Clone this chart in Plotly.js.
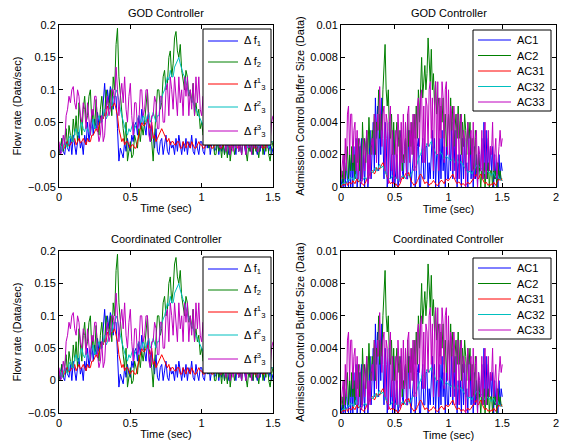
<!DOCTYPE html>
<html>
<head>
<meta charset="utf-8">
<script src="https://cdn.plot.ly/plotly-3.0.1.min.js"></script>
<style>html,body{margin:0;padding:0;background:#fff;}#chart{width:561px;height:445px;}</style>
</head>
<body>
<div id="chart"></div>
<script>
// Time grid (sec)
const time = [0,0.01,0.02,0.03,0.04,0.05,0.06,0.07,0.08,0.09,
0.1,0.11,0.12,0.13,0.14,0.15,0.16,0.17,0.18,0.19,
0.2,0.21,0.22,0.23,0.24,0.25,0.26,0.27,0.28,0.29,
0.3,0.31,0.32,0.33,0.34,0.35,0.36,0.37,0.38,0.39,
0.4,0.41,0.42,0.43,0.44,0.45,0.46,0.47,0.48,0.49,
0.5,0.51,0.52,0.53,0.54,0.55,0.56,0.57,0.58,0.59,
0.6,0.61,0.62,0.63,0.64,0.65,0.66,0.67,0.68,0.69,
0.7,0.71,0.72,0.73,0.74,0.75,0.76,0.77,0.78,0.79,
0.8,0.81,0.82,0.83,0.84,0.85,0.86,0.87,0.88,0.89,
0.9,0.91,0.92,0.93,0.94,0.95,0.96,0.97,0.98,0.99,
1.0,1.01,1.02,1.03,1.04,1.05,1.06,1.07,1.08,1.09,
1.1,1.11,1.12,1.13,1.14,1.15,1.16,1.17,1.18,1.19,
1.2,1.21,1.22,1.23,1.24,1.25,1.26,1.27,1.28,1.29,
1.3,1.31,1.32,1.33,1.34,1.35,1.36,1.37,1.38,1.39,
1.4,1.41,1.42,1.43,1.44,1.45,1.46,1.47,1.48,1.49,1.5];

// Flow rate deviations (Data/sec)
const f1 = [0.01,0.0,0.025,0.005,0.0,0.02,0.01,0.005,0.025,0.0,
0.03,0.01,0.0,0.02,0.035,0.01,0.02,0.0,0.03,0.015,
0.05,0.02,0.04,0.06,0.03,0.055,0.04,0.065,0.045,0.06,
0.05,0.09,0.11,0.07,0.1,0.08,0.105,0.095,0.07,0.09,
0.09,0.04,-0.01,0.01,0.0,-0.005,0.02,0.005,0.025,0.01,
0.005,0.03,0.02,0.045,0.05,0.03,0.06,0.04,0.07,0.05,
0.045,0.03,0.06,0.035,0.02,0.045,0.03,0.01,0.04,0.005,
0.0,0.02,0.025,0.0,0.015,0.03,0.005,0.0,0.02,0.01,
0.015,0.0,0.025,0.005,0.03,0.01,0.0,0.02,0.005,0.025,
0.0,0.02,0.01,0.03,0.005,0.0,0.025,0.01,0.0,0.02,
0.02,0.005,0.0,0.025,0.01,0.03,0.0,0.015,0.025,0.005,
0.01,0.03,0.0,0.02,0.005,0.025,0.0,0.015,0.02,0.0,
0.0,0.025,0.01,0.02,0.0,0.03,0.005,0.015,0.0,0.025,
0.01,0.0,0.02,0.03,0.005,0.015,0.0,0.025,0.01,0.0,
0.02,0.005,0.03,0.01,0.0,0.02,0.025,0.005,0.015,0.0,0.01];
const f2 = [0.0,0.015,0.025,0.005,0.02,0.04,0.01,0.045,0.03,0.02,
0.055,0.03,0.06,0.02,0.08,0.05,0.03,0.07,0.09,0.05,
0.06,0.09,0.1,0.05,0.07,0.04,0.085,0.05,0.03,0.07,
0.09,0.06,0.06,0.1,0.08,0.07,0.1,0.06,0.12,0.1,
0.17,0.195,0.12,0.09,0.06,0.04,0.02,0.05,-0.01,0.01,
0.02,-0.005,0.0,0.03,0.02,0.01,0.04,0.02,0.045,0.03,
0.05,0.07,0.1,0.05,0.04,0.02,-0.01,0.03,0.06,0.1,
0.1,0.07,0.08,0.12,0.13,0.1,0.11,0.15,0.16,0.12,
0.14,0.18,0.19,0.16,0.15,0.17,0.13,0.11,0.1,0.13,
0.12,0.09,0.1,0.08,0.11,0.06,0.08,0.06,0.07,0.04,
0.05,0.03,0.045,0.02,0.04,0.01,0.035,0.02,0.03,0.0,
0.0,0.02,0.005,0.015,-0.005,0.02,0.0,0.015,-0.005,0.025,
-0.01,0.01,0.02,0.0,0.015,0.03,0.005,0.02,0.0,0.02,
0.02,0.0,-0.01,0.015,0.005,0.02,0.0,0.025,0.005,0.015,
-0.005,0.015,0.025,0.0,0.02,0.005,0.03,0.0,-0.01,0.01,0.02];
const f31 = [0.01,0.012,0.015,0.01,0.01,0.018,0.02,0.013,0.015,0.02,
0.02,0.025,0.015,0.02,0.025,0.018,0.02,0.025,0.02,0.015,
0.025,0.02,0.02,0.03,0.03,0.035,0.04,0.035,0.045,0.05,
0.06,0.055,0.065,0.06,0.075,0.07,0.08,0.075,0.075,0.08,
0.07,0.06,0.04,0.03,0.02,0.025,0.015,0.02,0.02,0.015,
0.01,0.015,0.015,0.01,0.01,0.02,0.03,0.04,0.05,0.045,
0.045,0.05,0.055,0.045,0.04,0.05,0.025,0.03,0.02,0.025,
0.03,0.035,0.04,0.035,0.03,0.025,0.02,0.025,0.015,0.02,
0.02,0.015,0.015,0.02,0.02,0.01,0.01,0.02,0.015,0.01,
0.02,0.015,0.01,0.02,0.015,0.01,0.01,0.015,0.02,0.015,
0.015,0.01,0.01,0.02,0.02,0.015,0.015,0.01,0.01,0.015,
0.015,0.02,0.02,0.01,0.01,0.015,0.015,0.02,0.02,0.015,
0.01,0.015,0.015,0.02,0.02,0.01,0.01,0.015,0.015,0.02,
0.02,0.01,0.01,0.015,0.015,0.02,0.02,0.01,0.01,0.015,
0.015,0.02,0.02,0.01,0.01,0.015,0.015,0.02,0.02,0.02,0.02];
const f32 = [0.01,0.015,0.005,0.01,0.02,0.015,0.01,0.025,0.03,0.02,
0.02,0.035,0.04,0.03,0.03,0.045,0.05,0.04,0.035,0.045,
0.04,0.035,0.03,0.045,0.055,0.04,0.045,0.055,0.06,0.05,
0.05,0.06,0.07,0.055,0.06,0.07,0.08,0.075,0.09,0.085,
0.1,0.095,0.08,0.07,0.06,0.05,0.04,0.035,0.03,0.04,
0.035,0.045,0.05,0.04,0.045,0.055,0.06,0.05,0.05,0.06,
0.055,0.05,0.06,0.065,0.05,0.055,0.065,0.055,0.05,0.06,
0.06,0.08,0.09,0.095,0.1,0.11,0.12,0.115,0.13,0.12,
0.12,0.135,0.14,0.145,0.15,0.14,0.13,0.125,0.12,0.11,
0.1,0.095,0.09,0.085,0.08,0.075,0.07,0.065,0.06,0.055,
0.05,0.045,0.04,0.04,0.035,0.03,0.03,0.035,0.025,0.03,
0.03,0.025,0.02,0.025,0.025,0.02,0.015,0.02,0.02,0.015,
0.015,0.02,0.025,0.015,0.01,0.02,0.02,0.015,0.015,0.02,
0.02,0.015,0.01,0.02,0.025,0.015,0.015,0.02,0.02,0.015,
0.01,0.015,0.02,0.02,0.015,0.025,0.02,0.01,0.015,0.02,0.02];
const f33 = [0.02,0.0,0.005,0.03,0.015,0.06,0.07,0.09,0.08,0.1,
0.105,0.08,0.07,0.1,0.09,0.06,0.05,0.08,0.07,0.04,
0.08,0.05,0.03,0.07,0.06,0.09,0.09,0.04,0.02,0.03,
0.06,0.02,0.03,0.07,0.09,0.06,0.07,0.1,0.1,0.08,
0.135,0.1,0.06,0.09,0.11,0.08,0.12,0.07,0.05,0.09,
0.11,0.06,0.03,0.08,0.08,0.04,0.05,0.1,0.1,0.06,
0.07,0.1,0.1,0.03,0.02,0.06,0.06,0.09,0.08,0.04,
0.04,0.09,0.09,0.05,0.05,0.1,0.11,0.06,0.12,0.1,
0.07,0.12,0.09,0.06,0.12,0.08,0.1,0.06,0.12,0.09,
0.12,0.06,0.1,0.07,0.11,0.06,0.12,0.08,0.12,0.07,
0.06,0.09,0.04,0.08,0.03,0.07,0.04,0.06,0.03,0.05,
0.05,0.02,0.04,0.01,0.04,0.02,0.03,0.005,0.03,0.01,
0.0,0.025,0.005,0.02,0.01,0.03,0.005,0.02,0.0,0.025,
0.02,0.0,0.03,0.01,0.025,0.0,0.03,0.01,0.025,0.005,
0.005,0.03,0.01,0.04,0.02,0.035,0.01,0.05,0.02,0.05,0.06];

// Admission control buffer size (Data)
const ac1 = [0,0.0005,0,0.001,0,0.0015,0.0005,0,0.002,0,
0.002,0,0.0025,0.0005,0.003,0,0.001,0.0025,0,0.003,
0.0005,0.002,0,0.0025,0.003,0,0.001,0.0035,0.0005,0.002,
0.004,0.001,0.0055,0.003,0.005,0.001,0.0045,0.002,0.0055,0.003,
0.0005,0.004,0.003,0,0.001,0.004,0.0005,0.002,0,0.0035,
0,0.001,0.002,0,0.0005,0.003,0.0035,0.001,0.0005,0.0025,
0.003,0.0005,0.0005,0.0035,0.0025,0,0.001,0.002,0.0025,0,
0.0005,0.0025,0.003,0,0,0.002,0.003,0.0005,0.0005,0.0025,
0.0025,0,0.0015,0.0005,0.002,0.0035,0.0005,0.003,0,0.002,
0.002,0,0.003,0.0005,0.0035,0.001,0.0025,0,0.0025,0.0005,
0.0005,0.003,0.001,0.004,0.0005,0.0035,0.001,0.0035,0,0.002,
0.0005,0.002,0,0.003,0.0005,0.003,0.001,0.0015,0,0.0035,
0.0035,0.0005,0.002,0,0.0025,0.0005,0.002,0,0.0025,0.001,
0.001,0.003,0.0005,0.004,0.001,0.0035,0.0005,0.003,0.001,0.0025,
0.001,0.0025,0,0.002,0.0005,0.0015,0,0.002,0.0005,0.0015,0.001];
const ac2 = [0.0005,0.001,0.0002,0.002,0.0005,0.0015,0.0025,0.0005,0.002,0.001,
0.0025,0.001,0.002,0.0005,0.0025,0.0015,0.003,0.001,0.0025,0.0005,
0.004,0.002,0.003,0.0015,0.0035,0.002,0.0043,0.0025,0.002,0.0035,
0.003,0.0045,0.002,0.004,0.0035,0.006,0.003,0.0045,0.0035,0.006,
0.0075,0.0088,0.006,0.005,0.006,0.0035,0.003,0.0045,0.002,0.004,
0.002,0.0035,0.004,0.0025,0.0035,0.0015,0.0035,0.001,0.002,0.0015,
0.003,0.0015,0.0045,0.0025,0.0035,0.0025,0.004,0.002,0.0045,0.003,
0.005,0.003,0.006,0.004,0.0065,0.008,0.0055,0.0065,0.0075,0.006,
0.007,0.0092,0.0075,0.0065,0.0085,0.006,0.007,0.005,0.0065,0.0045,
0.005,0.0055,0.0035,0.005,0.004,0.0055,0.003,0.0045,0.0025,0.004,
0.0045,0.003,0.0055,0.0035,0.005,0.0025,0.004,0.0045,0.003,0.005,
0.003,0.0045,0.002,0.004,0.0025,0.0045,0.0035,0.002,0.004,0.003,
0.004,0.002,0.003,0.001,0.0015,0.0035,0.001,0.0005,0.002,0.0005,
0,0.001,0.0005,0.0015,0,0.001,0.0005,0.0015,0,0.001,
0.001,0,0.0015,0.0005,0.001,0,0.0015,0.0005,0.001,0.0005,0.0005];
const ac31 = [0,0.0001,0.0002,0.0001,0.0002,0.0003,0.0001,0.0002,0.0003,0.0002,
0.0002,0.0004,0.0003,0.0002,0.0004,0.0005,0.0003,0.0004,0.0003,0.0002,
0.0002,0.0001,0.0002,0.0003,0.0005,0.0006,0.0008,0.0007,0.0009,0.001,
0.001,0.0008,0.0009,0.0012,0.001,0.0012,0.0011,0.0013,0.0014,0.0015,
0.0012,0.001,0.0008,0.0006,0.0005,0.0003,0.0002,0.0003,0.0002,0.0003,
0.0001,0.0002,0.0001,0,0.0001,0.0002,0.0004,0.0006,0.0005,0.0007,
0.0008,0.0009,0.0007,0.0009,0.0006,0.0004,0.0003,0.0002,0.0001,0.0002,
0.0002,0.0004,0.0005,0.0007,0.0008,0.0007,0.0005,0.0004,0.0002,0.0003,
0.0003,0.0002,0.0001,0.0002,0.0002,0.0003,0.0004,0.0003,0.0002,0.0001,
0.0001,0.0002,0.0003,0.0004,0.0004,0.0003,0.0002,0.0004,0.0005,0.0004,
0.0004,0.0005,0.0006,0.0007,0.0008,0.0006,0.0004,0.0003,0.0002,0.0003,
0.0003,0.0002,0.0001,0.0002,0.0002,0.0001,0.0001,0.0002,0.0003,0.0002,
0.0002,0.0003,0.0004,0.0005,0.0006,0.0007,0.0008,0.0006,0.0005,0.0007,
0.0008,0.0006,0.0004,0.0003,0.0002,0.0003,0.0002,0.0001,0.0002,0.0001,
0.0002,0.0001,0.0003,0.0002,0.0001,0.0003,0.0004,0.0005,0.0004,0.0005,0.0004];
const ac32 = [0.0001,0.0002,0.0002,0.0003,0.0002,0.0003,0.0004,0.0005,0.0004,0.0006,
0.0006,0.0005,0.0004,0.0006,0.0008,0.0007,0.0005,0.0004,0.0003,0.0004,
0.0004,0.0005,0.0006,0.0005,0.0005,0.0007,0.0008,0.0009,0.001,0.0009,
0.0009,0.0011,0.0012,0.001,0.001,0.0013,0.0014,0.0012,0.0012,0.0013,
0.0011,0.0009,0.0008,0.0007,0.0006,0.0005,0.0005,0.0006,0.0007,0.0006,
0.0005,0.0006,0.0006,0.0005,0.0004,0.0005,0.0006,0.0007,0.0007,0.0006,
0.0005,0.0007,0.0008,0.0007,0.0006,0.0008,0.0009,0.001,0.0011,0.0012,
0.0013,0.0015,0.0018,0.0019,0.002,0.0022,0.0024,0.0023,0.0022,0.0025,
0.0027,0.0026,0.0025,0.0027,0.0028,0.0026,0.0024,0.0022,0.0021,0.002,
0.0019,0.002,0.0022,0.0021,0.002,0.0018,0.0017,0.0018,0.0019,0.0018,
0.0018,0.0017,0.0016,0.0017,0.0018,0.0016,0.0015,0.0016,0.0017,0.0016,
0.0014,0.0015,0.0016,0.0014,0.0013,0.0012,0.0011,0.001,0.0009,0.0009,
0.001,0.0009,0.0008,0.001,0.0011,0.0012,0.0013,0.0014,0.0013,0.0012,
0.0012,0.0011,0.001,0.0009,0.0008,0.0009,0.001,0.0009,0.0009,0.0008,
0.0007,0.0008,0.0009,0.0007,0.0006,0.0008,0.0007,0.0005,0.0005,0.0004,0.0004];
const ac33 = [0.0005,0.0015,0.002,0.0005,0.003,0.001,0.0045,0.005,0.002,0.0045,
0.0045,0.0015,0.0035,0.004,0.001,0.0035,0.0005,0.003,0.0025,0.0002,
0.0005,0.003,0.001,0.0025,0.0035,0.0002,0.002,0.0005,0.0025,0.003,
0.002,0.0045,0.004,0.0015,0.0045,0.0035,0.0062,0.004,0.0025,0.0045,
0.005,0.001,0.0045,0.004,0.0002,0.004,0.005,0.001,0.0035,0.0003,
0.001,0.0035,0.0005,0.0045,0.003,0.0003,0.004,0.0015,0.0045,0.0015,
0.004,0.0005,0.0045,0.005,0.0015,0.004,0.002,0.0045,0.001,0.0045,
0.001,0.005,0.0055,0.0025,0.0055,0.006,0.0015,0.005,0.0015,0.0055,
0.005,0.0025,0.006,0.0065,0.003,0.0055,0.001,0.005,0.0065,0.002,
0.0065,0.001,0.0055,0.003,0.0065,0.0055,0.0015,0.006,0.0065,0.002,
0.006,0.002,0.005,0.0045,0.001,0.005,0.0035,0.0005,0.0045,0.0045,
0.0005,0.004,0.0045,0.0015,0.0035,0.003,0,0.003,0.004,0.001,
0.003,0.0035,0.001,0.004,0.0005,0.003,0.0035,0,0.0025,0.002,
0.001,0.0035,0.0005,0.003,0.004,0.0005,0.002,0.0035,0.001,0.0025,
0.002,0.004,0.001,0.0025,0.003,0.0005,0.002,0.0025,0.0035,0.0025,0.003];

const colors = ['#0000FF','#008000','#FF0000','#00BFBF','#BF00BF'];
const flowSeries = [f1,f2,f31,f32,f33];
const flowNames = ['Δ f<sub>1</sub>','Δ f<sub>2</sub>','Δ f<sup>1</sup><sub>3</sub>','Δ f<sup>2</sup><sub>3</sub>','Δ f<sup>3</sup><sub>3</sub>'];
const bufSeries = [ac1,ac2,ac31,ac32,ac33];
const bufNames = ['AC1','AC2','AC31','AC32','AC33'];
const titles = ['GOD Controller','Coordinated Controller'];

const W = 561, H = 445;
const fnt = {family: 'Arial', size: 11, color: '#000'};

const traces = [];
function addSet(series, names, xa, ya) {
  series.forEach((s, i) => {
    traces.push({x: time, y: s, type: 'scatter', mode: 'lines', name: names[i], showlegend: false,
      line: {color: colors[i], width: 1}, xaxis: xa, yaxis: ya});
  });
}
addSet(flowSeries, flowNames, 'x', 'y');
addSet(bufSeries, bufNames, 'x2', 'y2');
addSet(flowSeries, flowNames, 'x3', 'y3');
addSet(bufSeries, bufNames, 'x4', 'y4');

function ax(extra) {
  return Object.assign({showline: true, linecolor: '#000', linewidth: 1, mirror: 'ticks', ticks: 'inside',
    ticklen: 4, tickcolor: '#000', showgrid: false, zeroline: false, tickfont: fnt, automargin: false}, extra);
}
const leftX = [59/W, 273/W], rightX = [341/W, 556/W];
const topY = [1-187/H, 1-25/H], botY = [1-413/H, 1-251/H];

// Legend boxes drawn in pixel space (converted to paper units)
const shapes = [], annotations = [];
const px = v => v / W, py = v => 1 - v / H;
function drawLegend(box, rows, lineX, textX, names) {
  shapes.push({type: 'rect', xref: 'paper', yref: 'paper', x0: px(box[0]), x1: px(box[1]), y0: py(box[2]), y1: py(box[3]),
    line: {color: '#000', width: 1}, fillcolor: '#fff', layer: 'above'});
  rows.forEach((ry, i) => {
    shapes.push({type: 'line', xref: 'paper', yref: 'paper', x0: px(lineX[0]), x1: px(lineX[1]), y0: py(ry), y1: py(ry),
      line: {color: colors[i], width: 1}, layer: 'above'});
    annotations.push({text: names[i], xref: 'paper', yref: 'paper', x: px(textX), y: py(ry), xanchor: 'left', yanchor: 'middle',
      showarrow: false, font: fnt});
  });
}
[0, 228].forEach(dy => {
  drawLegend([203, 271, 29 + dy, 145 + dy], [41, 62, 84, 107, 131].map(v => v + dy), [208, 238], 242, flowNames);
  drawLegend([473, 551, 30 + dy, 111 + dy], [40, 55.5, 71, 86.5, 102].map(v => v + dy), [478, 511], 515, bufNames);
});
[[leftX, 13, 0], [rightX, 13, 0], [leftX, 239, 1], [rightX, 239, 1]].forEach(([d, y, k]) => {
  annotations.push({text: titles[k], x: (d[0] + d[1]) / 2, y: py(y), xref: 'paper', yref: 'paper',
    xanchor: 'center', yanchor: 'middle', showarrow: false, font: fnt});
});

const xt = {text: 'Time (sec)', font: fnt, standoff: 2};
const layout = {
  width: W, height: H, margin: {l: 0, r: 0, t: 0, b: 0}, paper_bgcolor: '#fff', plot_bgcolor: '#fff',
  font: fnt, showlegend: false,
  xaxis: ax({domain: leftX, range: [0, 1.5], dtick: 0.5, anchor: 'y', title: xt}),
  yaxis: ax({domain: topY, range: [-0.05, 0.2], dtick: 0.05, anchor: 'x', title: {text: 'Flow rate (Data/sec)', font: fnt, standoff: 4}}),
  xaxis2: ax({domain: rightX, range: [0, 2], dtick: 0.5, anchor: 'y2', title: xt}),
  yaxis2: ax({domain: topY, range: [0, 0.01], dtick: 0.002, anchor: 'x2', title: {text: 'Admission Control Buffer Size (Data)', font: fnt, standoff: 3}}),
  xaxis3: ax({domain: leftX, range: [0, 1.5], dtick: 0.5, anchor: 'y3', title: xt}),
  yaxis3: ax({domain: botY, range: [-0.05, 0.2], dtick: 0.05, anchor: 'x3', title: {text: 'Flow rate (Data/sec)', font: fnt, standoff: 4}}),
  xaxis4: ax({domain: rightX, range: [0, 2], dtick: 0.5, anchor: 'y4', title: xt}),
  yaxis4: ax({domain: botY, range: [0, 0.01], dtick: 0.002, anchor: 'x4', title: {text: 'Admission Control Buffer Size (Data)', font: fnt, standoff: 3}}),
  shapes: shapes,
  annotations: annotations
};
Plotly.newPlot('chart', traces, layout, {displayModeBar: false, staticPlot: true});
</script>
</body>
</html>
